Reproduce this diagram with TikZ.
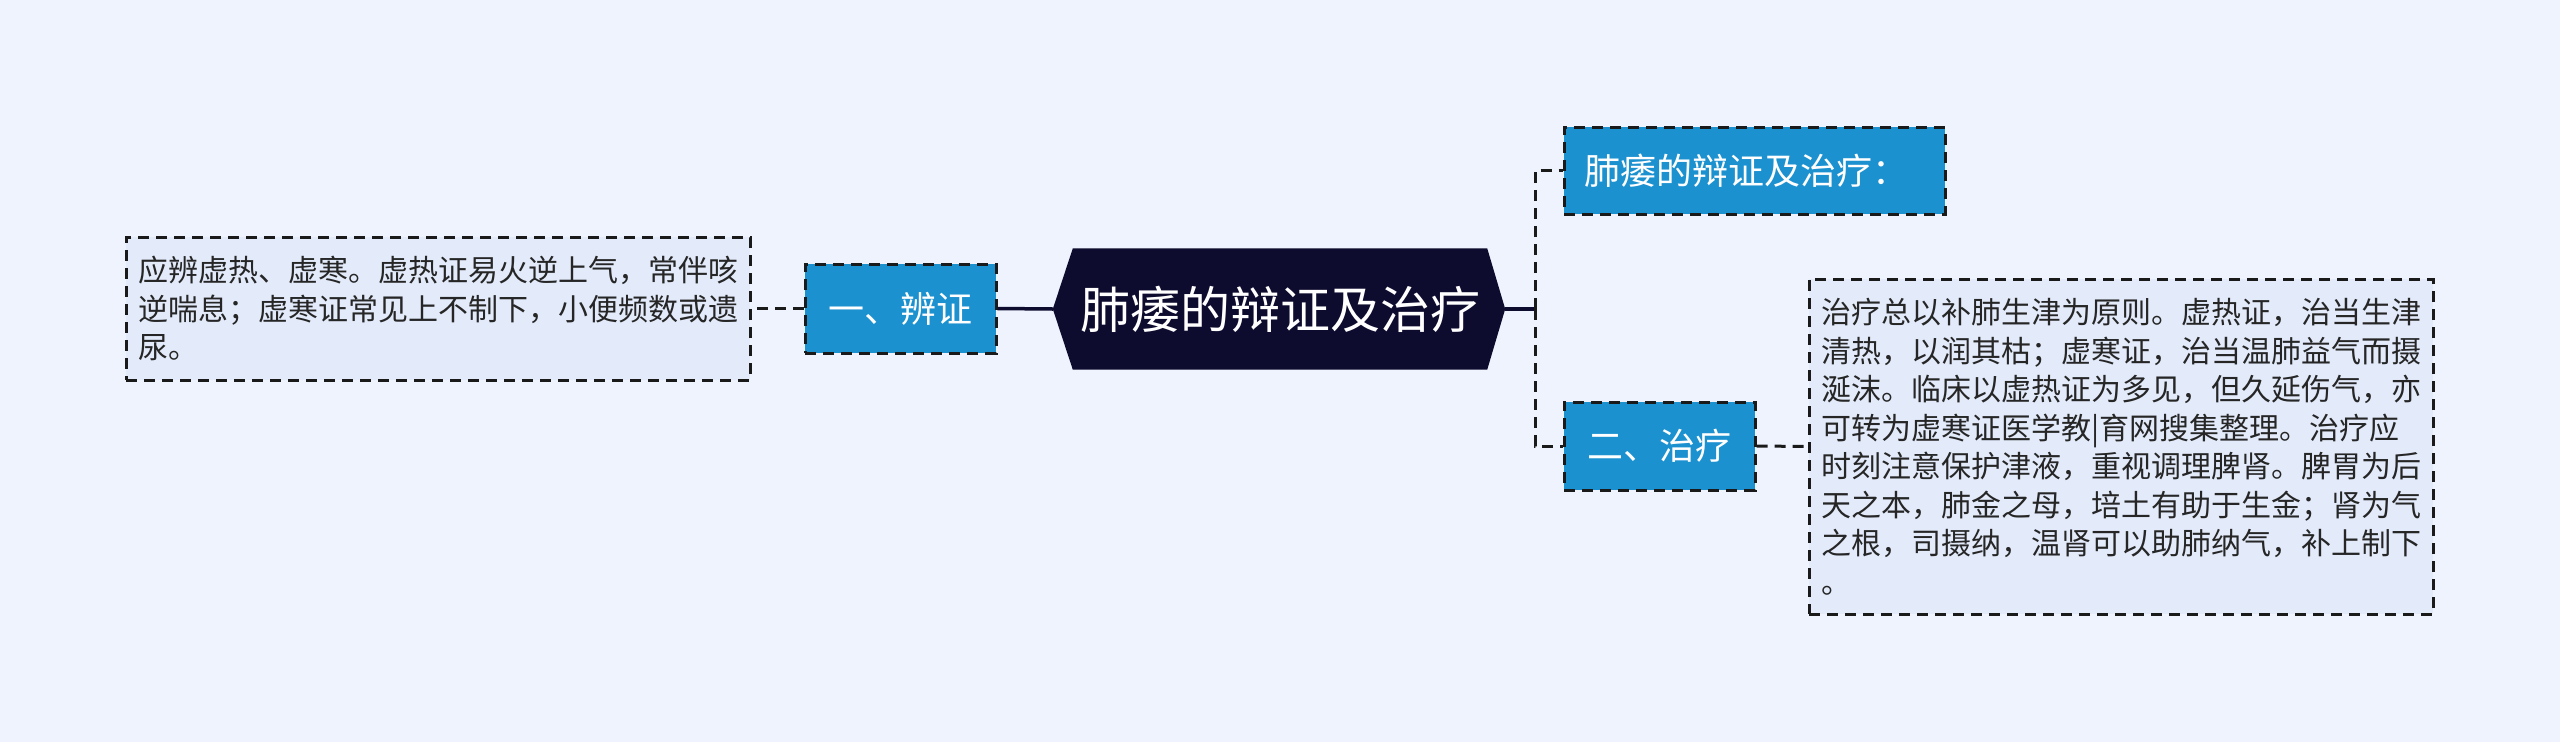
\documentclass[tikz,border=0pt]{standalone}
\usepackage{fontspec}
\newfontfamily\cjk{Noto Sans CJK SC}
\usetikzlibrary{backgrounds}
\definecolor{bgc}{HTML}{EEF3FD}
\definecolor{tbc}{HTML}{E3EBFB}
\definecolor{blc}{HTML}{1B91D0}
\definecolor{nvc}{HTML}{0D0B2E}
\definecolor{bdc}{HTML}{1A1A1A}
\definecolor{txc}{HTML}{262626}
\begin{document}
\begin{tikzpicture}[x=1pt,y=-1pt,
  dashb/.style={draw=bdc, line width=3pt, dash pattern=on 11pt off 7pt},
  textbox/.style={dashb, fill=tbc, text=txc, align=left, inner xsep=12pt, inner ysep=0pt,
    font=\cjk\fontsize{30}{38.5}\selectfont},
  bluebox/.style={dashb, fill=blc, text=white, inner sep=0pt,
    font=\cjk\fontsize{36}{40}\selectfont},
  hexnode/.style={inner sep=0pt, text=white, font=\cjk\fontsize{50}{56}\selectfont,
    minimum width=414pt, minimum height=121pt},
  solidline/.style={draw=nvc, line width=3.5pt},
  dashline/.style={draw=bdc, line width=3pt, dash pattern=on 11pt off 7pt}]
\useasboundingbox (0,0) rectangle (2560,742);

% central node
\node[hexnode] (c) at (1280,309) {肺痿的辩证及治疗};
\coordinate (cl) at ([xshift=-20pt]c.west);
\coordinate (cr) at ([xshift=18pt]c.east);
\begin{pgfonlayer}{background}
\fill[bgc] (0,0) rectangle (2560,742);
\fill[nvc] (c.north west) -- (c.north east) -- (cr) -- (c.south east) -- (c.south west) -- (cl) -- cycle;
\end{pgfonlayer}

% left branch
\node[bluebox, minimum width=191pt, minimum height=89pt] (b1) at (900.5,308.5) {一、辨证};
\node[textbox, minimum width=622pt, minimum height=143pt] (t1) at (438,308.5)
  {应辨虚热、虚寒。虚热证易火逆上气，常伴咳\\逆喘息；虚寒证常见上不制下，小便频数或遗\\尿。};

% right branch
\node[bluebox, minimum width=381pt, minimum height=87pt, text width=341pt, align=left, inner xsep=20pt] (r1) at (1754.5,170.5) {肺痿的辩证及治疗：};
\node[bluebox, minimum width=191pt, minimum height=88pt] (b2) at (1659.5,446) {二、治疗};
\node[textbox, minimum width=624pt, minimum height=335pt] (t2) at (2121,446.5)
  {治疗总以补肺生津为原则。虚热证，治当生津\\清热，以润其枯；虚寒证，治当温肺益气而摄\\涎沫。临床以虚热证为多见，但久延伤气，亦\\可转为虚寒证医学教|育网搜集整理。治疗应\\时刻注意保护津液，重视调理脾肾。脾胃为后\\天之本，肺金之母，培土有助于生金；肾为气\\之根，司摄纳，温肾可以助肺纳气，补上制下\\。};

\coordinate (j) at (1535,309);

% connectors
\draw[solidline] (cl) -- (b1.east);
\draw[dashline] (b1.west) -- (t1.east);
\draw[solidline] (cr) -- (j);
\draw[dashline] (j) |- (r1.west);
\draw[dashline] (j) |- (b2.west);
\draw[dashline] (b2.east) -- (t2.west);
\end{tikzpicture}
\end{document}
